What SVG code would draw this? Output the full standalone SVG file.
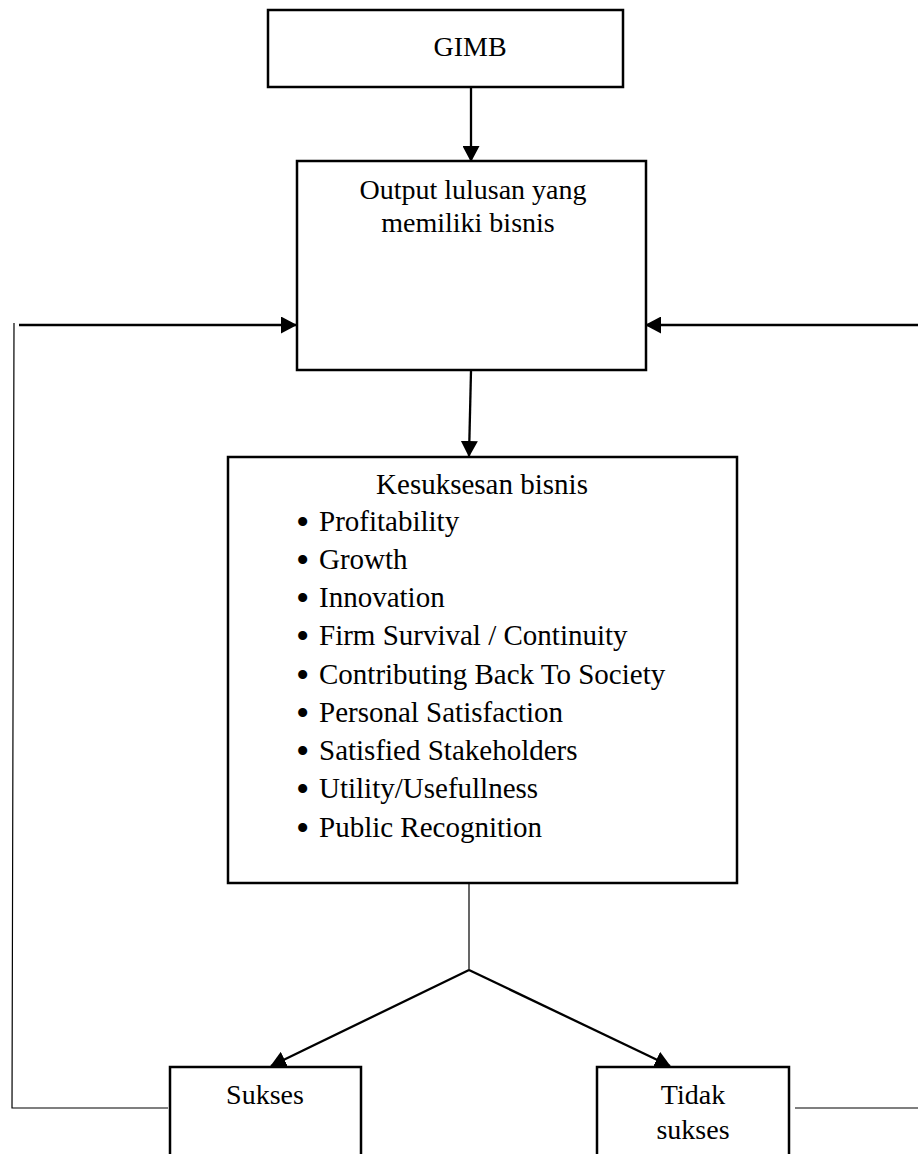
<svg xmlns="http://www.w3.org/2000/svg" width="918" height="1154" viewBox="0 0 918 1154">
<style>
.box{fill:#fff;stroke:#000;stroke-width:2.5}
.t{font-family:"Liberation Serif","Times New Roman",serif;font-size:28px;fill:#000}
.c{text-anchor:middle}
.l{font-size:29px}
.b{font-family:"Liberation Serif","Times New Roman",serif;font-size:38px;fill:#000}
.arr{stroke:#000;stroke-width:2.3;fill:none;marker-end:url(#ah)}
.thin{stroke:#000;stroke-width:1.2;fill:none}
</style>
<defs>
<marker id="ah" markerUnits="userSpaceOnUse" markerWidth="16" markerHeight="17" refX="15" refY="8.5" orient="auto">
<path d="M0,0 L16,8.5 L0,17 z" fill="#000"/>
</marker>
</defs>
<rect width="918" height="1154" fill="#fff"/>
<g id="connectors">
<line class="arr" x1="471" y1="88" x2="471" y2="161"/>
<line class="arr" x1="19" y1="325" x2="296" y2="325"/>
<line class="arr" x1="918" y1="325" x2="646" y2="325"/>
<line class="arr" x1="471" y1="371" x2="469" y2="456"/>
<line class="thin" x1="469" y1="884" x2="469" y2="970"/>
<line class="arr" x1="469" y1="970" x2="271" y2="1066"/>
<line class="arr" x1="469" y1="970" x2="670" y2="1066"/>
<polyline class="thin" points="14,323 12,1108 168,1108"/>
<line class="thin" x1="795" y1="1108" x2="918" y2="1108"/>
</g>
<g id="gimb">
<rect class="box" x="268" y="10" width="355" height="77"/>
<text class="t c" x="470" y="56">GIMB</text>
</g>
<g id="output">
<rect class="box" x="297" y="161" width="349" height="209"/>
<text class="t c" x="473" y="199">Output lulusan yang</text>
<text class="t c" x="468" y="232">memiliki bisnis</text>
</g>
<g id="kesuksesan">
<rect class="box" x="228" y="457" width="509" height="426"/>
<text class="t l c" x="482" y="494">Kesuksesan bisnis</text>
<g class="b">
<text x="296" y="535">•</text>
<text x="296" y="573">•</text>
<text x="296" y="611">•</text>
<text x="296" y="649">•</text>
<text x="296" y="688">•</text>
<text x="296" y="726">•</text>
<text x="296" y="764">•</text>
<text x="296" y="802">•</text>
<text x="296" y="841">•</text>
</g>
<g class="t l">
<text x="319" y="531">Profitability</text>
<text x="319" y="569">Growth</text>
<text x="319" y="607">Innovation</text>
<text x="319" y="645">Firm Survival / Continuity</text>
<text x="319" y="684">Contributing Back To Society</text>
<text x="319" y="722">Personal Satisfaction</text>
<text x="319" y="760">Satisfied Stakeholders</text>
<text x="319" y="798">Utility/Usefullness</text>
<text x="319" y="837">Public Recognition</text>
</g>
</g>
<g id="sukses">
<rect class="box" x="170" y="1067" width="191" height="100"/>
<text class="t c" x="265" y="1104">Sukses</text>
</g>
<g id="tidak">
<rect class="box" x="597" y="1067" width="192" height="100"/>
<text class="t c" x="693" y="1104">Tidak</text>
<text class="t c" x="693" y="1139">sukses</text>
</g>
</svg>
